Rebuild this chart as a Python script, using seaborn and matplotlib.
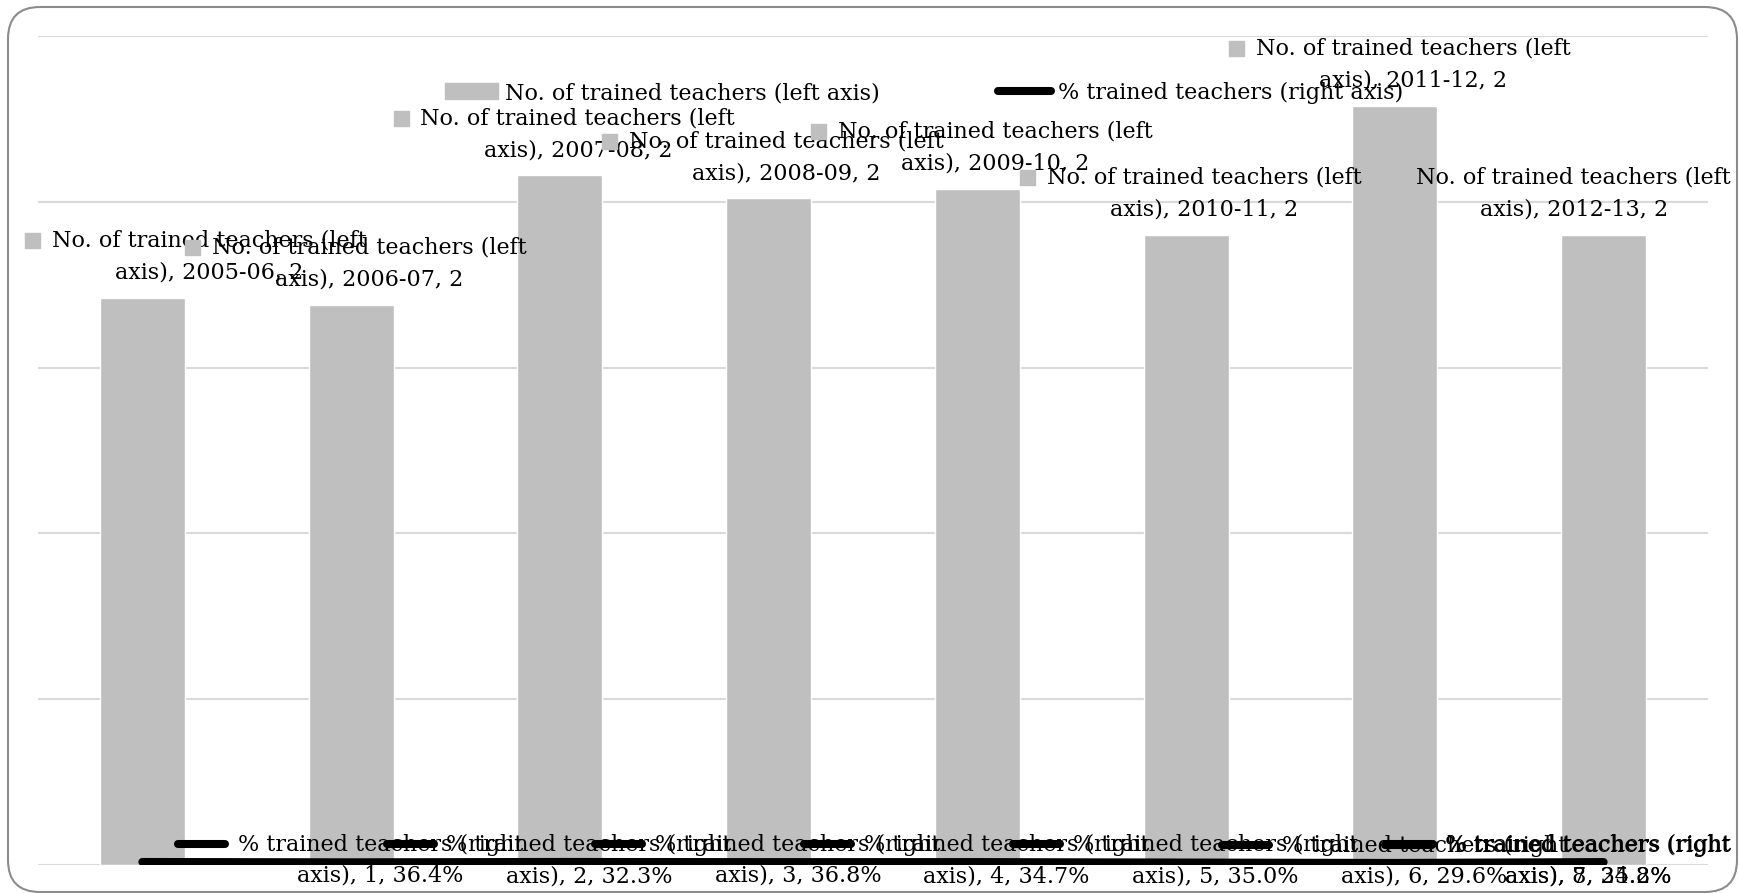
import textwrap
import numpy as np
import pandas as pd
import matplotlib
matplotlib.use("Agg")
import matplotlib.pyplot as plt
import seaborn as sns
from matplotlib.patches import Rectangle, FancyBboxPatch
from matplotlib.lines import Line2D
from matplotlib.transforms import IdentityTransform

# data
years = ["2005-06", "2006-07", "2007-08", "2008-09", "2009-10", "2010-11", "2011-12", "2012-13"]
trained_teachers = [1.71, 1.69, 2.08, 2.01, 2.04, 1.90, 2.29, 1.90]  # left axis
pct_trained = [36.4, 32.3, 36.8, 34.7, 35.0, 29.6, 24.8, 35.2]  # right axis
bar_name = "No. of trained teachers (left axis)"
line_name = "% trained teachers (right axis)"

# layout (pixels), excel shoved the end labels inwards
bar_lbl_dx = [67, 18, 18, 18, 18, 18, 18, -30]
line_lbl_dx = [238, 238, 238, 238, 238, 238, 193, -15]

BAR_GRAY = "#bfbfbf"
GRID = "#d9d9d9"
FONT = "DejaVu Serif"
FS = 16
W, H = 1739, 893


def setup():
    sns.set_theme(style="white")
    plt.rcParams["font.family"] = [FONT, "DejaVu Sans"]
    plt.rcParams["text.color"] = "black"
    fig = plt.figure(figsize=(W / 100, H / 100), dpi=100)
    ax = fig.add_axes([38 / W, 28 / H, 1670 / W, 829 / H])
    return fig, ax


def plot_bars(ax, df):
    sns.barplot(data=df, x="year", y="teachers", color=BAR_GRAY, saturation=1,
                width=0.407, ax=ax, zorder=2)
    ax.set_ylim(0, 2.5)
    ax.set_yticks(np.arange(0, 2.51, 0.5))
    ax.yaxis.grid(True, color=GRID, lw=1.5)
    ax.xaxis.grid(False)
    ax.set_axisbelow(True)
    ax.set_xlabel("")
    ax.set_ylabel("")
    for s in ax.spines.values():
        s.set_visible(False)


def plot_line(ax, df):
    ax2 = ax.twinx()
    sns.lineplot(x=np.arange(len(df)), y=df["pct"] / 100, ax=ax2, color="black",
                 lw=5.8, solid_capstyle="round", legend=False)
    ax2.set_ylim(0, 100)
    ax2.set_axis_off()
    ax.set_xlim(-0.5, len(df) - 0.5)
    # twinx turns the left ticks back on
    ax.tick_params(left=False, right=False, bottom=False, labelleft=False,
                   labelright=False, labelbottom=False)
    return ax2


def add_labels(fig, ax, ax2, df):
    firsts = []
    for i, row in df.iterrows():
        txt = textwrap.wrap(f"{bar_name}, {row['year']}, {row['teachers']:.0f}", 29)
        t1 = ax2.annotate(txt[0], xy=(i, row["teachers"]), xycoords=ax.transData,
                          xytext=(bar_lbl_dx[i], 57), textcoords="offset pixels",
                          ha="center", va="center", fontsize=FS, zorder=5)
        ax2.annotate(txt[1], xy=(i, row["teachers"]), xycoords=ax.transData,
                     xytext=(bar_lbl_dx[i], 25), textcoords="offset pixels",
                     ha="center", va="center", fontsize=FS, zorder=5)
        firsts.append(("bar", t1))
    for i, row in df.iterrows():
        txt = textwrap.wrap(f"{line_name}, {i + 1}, {row['pct']:.1f}%", 25)
        t1 = ax2.annotate(txt[0], xy=(i, row["pct"] / 100), xycoords=ax2.transData,
                          xytext=(line_lbl_dx[i], 17), textcoords="offset pixels",
                          ha="center", va="center", fontsize=FS, zorder=6)
        ax2.annotate(txt[1], xy=(i, row["pct"] / 100), xycoords=ax2.transData,
                     xytext=(line_lbl_dx[i], -14), textcoords="offset pixels",
                     ha="center", va="center", fontsize=FS, zorder=6)
        firsts.append(("line", t1))

    # legend keys in front of each label, need the text extents first
    fig.canvas.draw()
    r = fig.canvas.get_renderer()
    for kind, t in firsts:
        bb = t.get_window_extent(r)
        yc = (bb.y0 + bb.y1) / 2
        if kind == "bar":
            fig.add_artist(Rectangle((bb.x0 - 27, yc - 7.5), 15, 15, color=BAR_GRAY,
                                     transform=IdentityTransform(), zorder=7))
        else:
            fig.add_artist(Line2D([bb.x0 - 60, bb.x0 - 13], [yc + 1, yc + 1], color="black",
                                  lw=5.8, solid_capstyle="round",
                                  transform=IdentityTransform(), zorder=7))


def add_legend(fig):
    handles = [Rectangle((0, 0), 1, 1, color=BAR_GRAY),
               Line2D([0], [0], color="black", lw=5.8, solid_capstyle="round")]
    fig.legend(handles, [bar_name, line_name], loc="center",
               bbox_to_anchor=(924 / W, 1 - 93 / H), ncol=2, frameon=False,
               fontsize=FS, handlelength=2.4, handleheight=0.7, handletextpad=0.3,
               columnspacing=5.3)


def add_border(fig):
    box = FancyBboxPatch((8, 1), 1729, 885, boxstyle="round,pad=0,rounding_size=32",
                         fill=False, ec="#8c8c8c", lw=1.5, transform=IdentityTransform())
    fig.add_artist(box)


def main():
    df = pd.DataFrame({"year": years, "teachers": trained_teachers, "pct": pct_trained})
    fig, ax = setup()
    plot_bars(ax, df)
    ax2 = plot_line(ax, df)
    add_legend(fig)
    add_border(fig)
    add_labels(fig, ax, ax2, df)
    fig.savefig("out.png", dpi=100)


if __name__ == "__main__":
    main()
